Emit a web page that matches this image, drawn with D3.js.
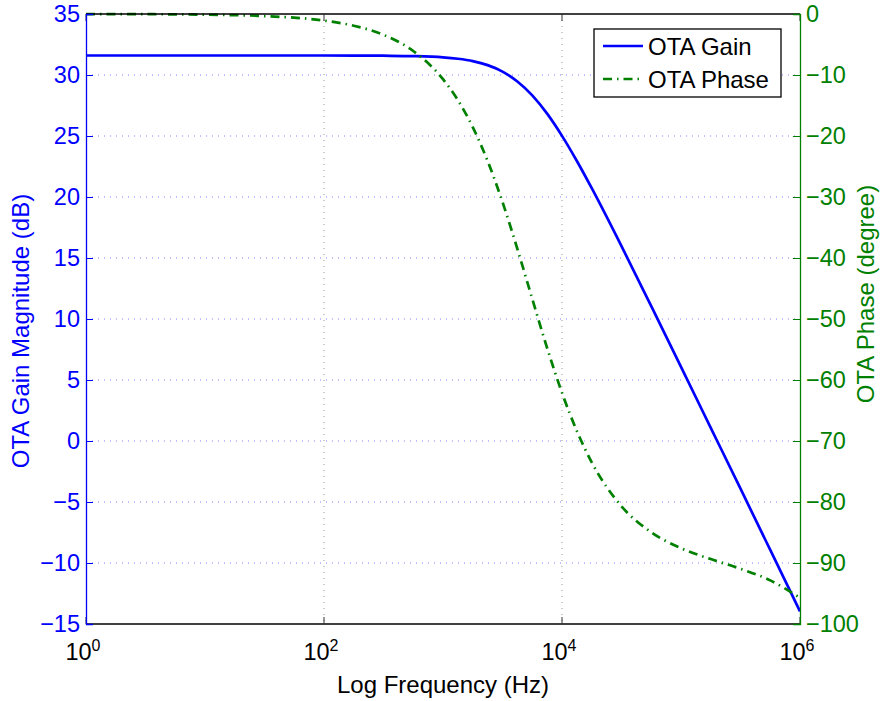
<!DOCTYPE html>
<html><head><meta charset="utf-8">
<script src="https://cdn.jsdelivr.net/npm/d3@7"></script>
<style>
body{margin:0;background:#fff;}
text{font-family:"Liberation Sans",Arial,sans-serif;}
</style></head>
<body><svg id="c" width="881" height="701"></svg>
<script>
// ---- data ----
const freqHz = [1, 3.162, 10, 31.62, 100, 177.8, 316.2, 562.3, 1000, 1334, 1778, 2371, 3162, 4217, 5623, 7499, 10000, 13335, 17783, 31623, 56234, 100000, 177828, 316228, 562341, 1000000];
const gainDb = [31.6, 31.6, 31.6, 31.6, 31.6, 31.595, 31.58, 31.55, 31.45, 31.33, 31.14, 30.81, 30.28, 29.47, 28.33, 26.83, 25.01, 22.95, 20.72, 15.97, 11.05, 6.07, 1.08, -3.91, -8.93, -13.96];
const phaseDeg = [-0.01, -0.03, -0.11, -0.34, -1.08, -1.92, -3.41, -6.06, -10.69, -14.12, -18.55, -24.10, -30.82, -38.51, -46.69, -54.75, -62.1, -68.37, -73.5, -80.7, -84.96, -87.57, -89.36, -90.95, -92.85, -95.71];
const xTickExp = [0, 2, 4, 6];
const gainTicks = [-15, -10, -5, 0, 5, 10, 15, 20, 25, 30, 35];
const phaseTicks = [0, -10, -20, -30, -40, -50, -60, -70, -80, -90, -100];
const seriesNames = ["OTA Gain", "OTA Phase"];
const xLabel = "Log Frequency (Hz)";
const yLeftLabel = "OTA Gain Magnitude (dB)";
const yRightLabel = "OTA Phase (degree)";

const W = 881, H = 701;
const L = 86, R = 800, T = 14, B = 624;
const BLUE = "#0000ff", GREEN = "#008000";
const svg = d3.select("#c");

const x = d3.scaleLog().domain([1, 1e6]).range([L, R]);
const yG = d3.scaleLinear().domain([-15, 35]).range([B, T]);
const yP = d3.scaleLinear().domain([-100, 0]).range([B, T]);

// grid
const grid = svg.append("g");
grid.selectAll("line.h").data(gainTicks.filter(v => v > -15 && v < 35)).join("line")
  .attr("x1", L).attr("x2", R).attr("y1", d => yG(d)).attr("y2", d => yG(d))
  .attr("stroke", "#8080ff").attr("stroke-width", 1).attr("stroke-dasharray", "1,5");
grid.selectAll("line.v").data(xTickExp.filter(e => e > 0 && e < 6)).join("line")
  .attr("y1", T).attr("y2", B).attr("x1", d => x(Math.pow(10, d))).attr("x2", d => x(Math.pow(10, d)))
  .attr("stroke", "#999").attr("stroke-width", 1).attr("stroke-dasharray", "1,5");

// lines
const pts = freqHz.map((f, i) => ({f, g: gainDb[i], p: phaseDeg[i]}));
svg.append("path").datum(pts)
  .attr("d", d3.line().x(d => x(d.f)).y(d => yG(d.g)).curve(d3.curveMonotoneX))
  .attr("fill", "none").attr("stroke", BLUE).attr("stroke-width", 2.7);
svg.append("path").datum(pts)
  .attr("d", d3.line().x(d => x(d.f)).y(d => yP(d.p)).curve(d3.curveMonotoneX))
  .attr("fill", "none").attr("stroke", GREEN).attr("stroke-width", 2.7)
  .attr("stroke-dasharray", "9,5,1.5,5");

// frame
svg.append("line").attr("x1", L).attr("x2", R).attr("y1", T).attr("y2", T).attr("stroke", "#000").attr("stroke-width", 1.3);
svg.append("line").attr("x1", L).attr("x2", R).attr("y1", B).attr("y2", B).attr("stroke", "#000").attr("stroke-width", 1.3);

// x ticks (inward, top and bottom)
xTickExp.forEach(e => {
  const xx = x(Math.pow(10, e));
  svg.append("line").attr("x1", xx).attr("x2", xx).attr("y1", B).attr("y2", B - 7).attr("stroke", "#333").attr("stroke-width", 1);
  svg.append("line").attr("x1", xx).attr("x2", xx).attr("y1", T).attr("y2", T + 7).attr("stroke", "#333").attr("stroke-width", 1);
  const t = svg.append("text").attr("x", xx - 3).attr("y", 660).attr("text-anchor", "middle")
    .attr("font-size", 23.5).attr("fill", "#000");
  t.append("tspan").text("10");
  t.append("tspan").attr("dy", -9).attr("font-size", 16).text(String(e));
});

// left axis
const axL = svg.append("g").attr("transform", `translate(${L},0)`)
  .call(d3.axisLeft(yG).tickValues(gainTicks).tickSize(-7).tickPadding(6));
axL.select(".domain").attr("stroke", BLUE).attr("stroke-width", 1.3);
axL.selectAll(".tick line").attr("stroke", BLUE);
axL.selectAll(".tick text").attr("fill", BLUE).attr("font-size", 23.5)
  .attr("font-family", "Liberation Sans, Arial, sans-serif");

// right axis
const axR = svg.append("g").attr("transform", `translate(${R},0)`)
  .call(d3.axisRight(yP).tickValues(phaseTicks).tickSize(-7).tickPadding(6));
axR.select(".domain").attr("stroke", GREEN).attr("stroke-width", 1.3);
axR.selectAll(".tick line").attr("stroke", GREEN);
axR.selectAll(".tick text").attr("fill", GREEN).attr("font-size", 23.5)
  .attr("font-family", "Liberation Sans, Arial, sans-serif");

// axis labels
svg.append("text").attr("x", 443).attr("y", 693).attr("text-anchor", "middle")
  .attr("font-size", 24).attr("fill", "#000").text(xLabel);
svg.append("text").attr("transform", "translate(29,331) rotate(-90)").attr("text-anchor", "middle")
  .attr("font-size", 24).attr("fill", BLUE).text(yLeftLabel);
svg.append("text").attr("transform", "translate(874,294) rotate(-90)").attr("text-anchor", "middle")
  .attr("font-size", 24).attr("fill", GREEN).text(yRightLabel);

// legend
const lg = svg.append("g");
lg.append("rect").attr("x", 594).attr("y", 29).attr("width", 187).attr("height", 68)
  .attr("fill", "#fff").attr("stroke", "#000").attr("stroke-width", 1.3);
const legendStyles = [{c: BLUE, dash: null}, {c: GREEN, dash: "9,5,1.5,5"}];
seriesNames.forEach((n, i) => {
  const yy = 46 + i * 33;
  lg.append("line").attr("x1", 603).attr("x2", 643).attr("y1", yy).attr("y2", yy)
    .attr("stroke", legendStyles[i].c).attr("stroke-width", 2.7)
    .attr("stroke-dasharray", legendStyles[i].dash);
  lg.append("text").attr("x", 648).attr("y", yy + 9).attr("font-size", 24).attr("fill", "#000").text(n);
});
</script></body></html>
